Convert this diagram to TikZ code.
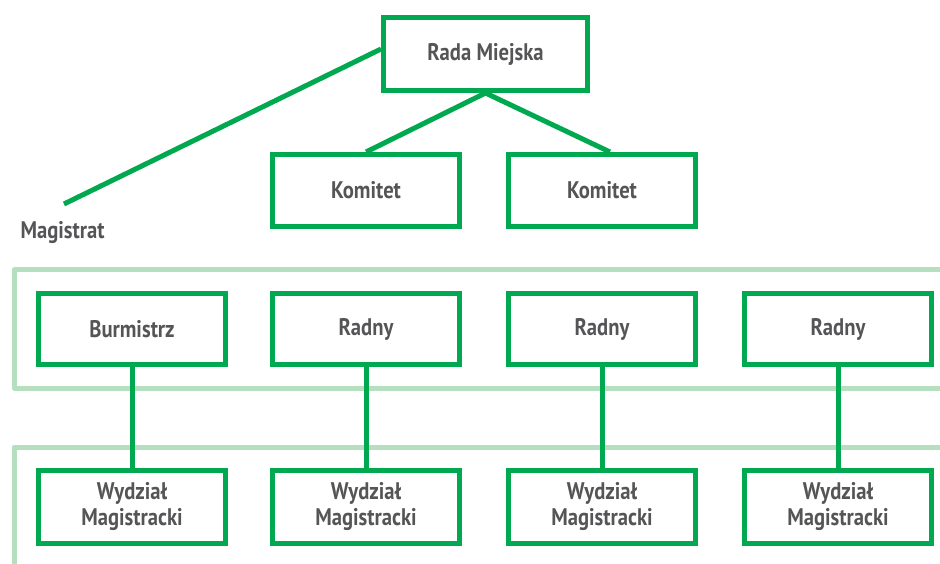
\documentclass[tikz,border=0pt]{standalone}
\usepackage{fontspec}
\setmainfont{PT Sans}[FakeStretch=0.86]
\usetikzlibrary{positioning}

\definecolor{orggreen}{HTML}{00A850}
\definecolor{bandgreen}{HTML}{B5DFBF}
\definecolor{orggray}{HTML}{555557}

\begin{document}
\begin{tikzpicture}[
        x=1pt,
        y=-1pt,
        org-box/.style={
            draw=orggreen,
            line width=5pt,
            fill=white,
            minimum width=187pt,
            minimum height=72pt,
            inner sep=0pt,
            align=center,
            text=orggray,
            font=\bfseries\fontsize{24}{26}\selectfont,
        },
        org-link/.style={
            draw=orggreen,
            line width=5pt,
        },
        band/.style={
            draw=bandgreen,
            line width=5pt,
            line join=round,
        },
        org-label/.style={
            text=orggray,
            font=\bfseries\fontsize{24}{26}\selectfont,
        },
    ]
    \useasboundingbox (0,0) rectangle (940,564);

    % Background bands.
    \draw[band] (945,270) -- (14,270) -- (14,388) -- (945,388);
    \draw[band] (945,447) -- (14,447) -- (14,570);

    % Top of the tree.
    \node[org-box, minimum width=204pt, minimum height=73pt] (rada) at (485.5,54) {Rada Miejska};
    \node[org-box] (komitet1) at (366,190.5) {Komitet};
    \node[org-box] (komitet2) at (602,190.5) {Komitet};

    \coordinate (magend) at (64,204);
    \node[org-label, anchor=west] (magistrat) at (17,233) {Magistrat};

    \draw[org-link] ([yshift=5pt]rada.west) -- (magend);
    \draw[org-link] (rada.south) -- (komitet1.north);
    \draw[org-link] (rada.south) -- ([xshift=8pt]komitet2.north);

    % Council row and departments.
    \foreach \i/\x/\name in {1/132/Burmistrz, 2/366/Radny, 3/602/Radny, 4/838/Radny} {
        \node[org-box, minimum height=71pt] (member\i) at (\x,329) {\name};
        \node[org-box, minimum height=73pt] (wydzial\i) at (\x,507) {Wydział\\Magistracki};
        \draw[org-link] (member\i) -- (wydzial\i);
    }
\end{tikzpicture}
\end{document}
